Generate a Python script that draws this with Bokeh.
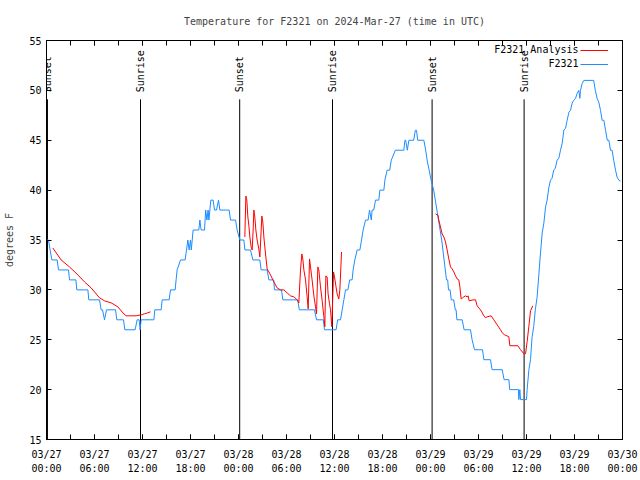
import math
from bokeh.plotting import figure
from bokeh.models import Range1d, FixedTicker, LinearAxis, Legend, LegendItem, Label
from bokeh.embed import file_html
from bokeh.resources import INLINE
from bokeh.core.properties import value

TITLE = "Temperature for F2321 on 2024-Mar-27 (time in UTC)"
Y_LABEL = "degrees F"
FONT = "DejaVu Sans Mono"

# x axis: hours since 2024-03-27 00:00 UTC
tick_hours = [0, 6, 12, 18, 24, 30, 36, 42, 48, 54, 60, 66, 72]
minor_hours = [0, 3, 6, 9, 12, 15, 18, 21, 24, 27, 30, 33, 36, 39, 42, 45, 48,
               51, 54, 57, 60, 63, 66, 69, 72]
tick_dates = ["03/27", "03/27", "03/27", "03/27", "03/28", "03/28", "03/28", "03/28",
              "03/29", "03/29", "03/29", "03/29", "03/30"]
tick_times = ["00:00", "06:00", "12:00", "18:00", "00:00", "06:00", "12:00", "18:00",
              "00:00", "06:00", "12:00", "18:00", "00:00"]
y_ticks = [15, 20, 25, 30, 35, 40, 45, 50, 55]

series_names = ["F2321 Analysis", "F2321"]

# observed F2321 temperature (hours, deg F)
obs_hours = [0.0, 0.25, 0.45, 0.67, 1.33, 1.5, 2.75, 2.88, 3.67, 3.79, 5.17, 5.29, 6.63,
             6.83, 7.0, 7.25, 7.5, 8.63, 8.79, 9.63, 9.79, 11.08, 11.33, 11.58, 11.7,
             11.83, 13.42, 13.54, 14.33, 14.46, 15.33, 15.5, 16.08, 16.2, 16.33, 16.75,
             17.33, 17.5, 17.67, 17.83, 18.0, 18.1, 18.33, 19.04, 19.17, 19.33, 19.75,
             19.9, 20.05, 20.2, 20.3, 20.54, 20.83, 21.0, 21.25, 21.5, 21.67, 22.83,
             23.0, 23.63, 23.83, 24.17, 24.67, 24.8, 25.5, 25.8, 26.67, 26.83, 27.58,
             27.8, 28.4, 28.5, 29.38, 29.54, 31.4, 31.6, 33.5, 33.75, 34.6, 34.75, 36.2,
             36.4, 36.75, 36.96, 37.17, 37.38, 37.67, 37.9, 38.2, 38.33, 38.54, 38.83,
             39.17, 39.38, 39.58, 39.88, 40.2, 40.38, 40.6, 40.7, 40.9, 41.13, 41.54,
             41.67, 42.17, 42.3, 42.58, 42.9, 43.1, 43.6, 44.67, 44.8, 44.9, 45.1, 45.3,
             45.9, 46.1, 46.25, 46.4, 47.17, 47.4, 47.58, 47.83, 48.08, 48.4, 48.6, 48.8,
             49.0, 49.2, 49.4, 49.55, 49.7, 49.85, 50.0, 50.15, 50.25, 50.45, 50.6, 50.9,
             51.1, 51.2, 51.3, 51.96, 52.2, 53.0, 53.2, 53.5, 54.5, 54.67, 55.5, 55.7,
             56.96, 57.2, 57.8, 57.9, 59.0, 59.04, 59.17, 59.25, 60.0, 60.08, 60.3, 60.5,
             60.7, 60.9, 61.1, 61.33, 61.54, 61.75, 61.96, 62.17, 62.38, 62.58, 62.8,
             63.0, 63.2, 63.4, 63.6, 63.83, 64.04, 64.25, 64.46, 64.67, 64.88, 65.08,
             65.3, 65.5, 65.7, 65.9, 66.13, 66.33, 66.54, 66.67, 66.75, 66.96, 67.17,
             68.4, 68.6, 68.83, 69.04, 69.25, 69.46, 69.67, 69.88, 70.1, 70.3, 70.5,
             70.7, 70.9, 71.13, 71.33, 71.54, 71.75]
obs_temps = [35, 35, 34, 33, 33, 32, 32, 31, 31, 30, 30, 29, 29,
             28, 28, 27, 28, 28, 27, 27, 26, 26, 27, 27, 26,
             27, 27, 28, 28, 29, 29, 30, 30, 31, 32, 33,
             33, 34, 35, 34, 35, 34, 36, 36, 37, 36, 36,
             38, 37, 38, 37, 39, 39, 38, 38, 39, 38, 38,
             37, 37, 36, 35, 35, 34, 34, 33, 33, 32, 32,
             31, 31, 30, 30, 29, 29, 28, 28, 27, 27, 26, 26,
             27, 27, 28, 29, 30, 30, 31, 31, 32, 33, 34,
             34, 35, 36, 37, 37, 38, 37, 38, 38, 39, 39,
             40, 40, 41, 42, 42, 43, 44, 44, 45, 45, 44, 45,
             45, 46, 46, 45, 45, 44, 43, 42, 41, 40, 39, 38,
             37, 36, 35, 34, 33, 32, 31, 31, 30, 30, 29, 29,
             28, 28, 27, 27, 26, 26, 25, 24, 24, 23, 23, 22,
             22, 21, 21, 20, 20, 19, 20, 19, 19, 20, 22, 23,
             25.3, 26.3, 28, 29.3, 31.5, 33.7, 35.7, 36.7, 38.3, 39, 40.3,
             41, 41.2, 42, 42.2, 43, 43.2, 44, 44.7, 46, 46.2, 47,
             47.8, 48, 48.7, 49, 49.2, 49.7, 50, 49.2, 50, 50.7, 51,
             51, 50, 49.2, 48.8, 48, 47, 47, 46, 45, 45, 44,
             44, 43, 42, 41.3, 41, 40.9]

# F2321 Analysis, one run per night
ana1_hours = [0.79, 1.83, 2.88, 3.92, 4.75, 5.58, 6.63, 7.25, 8.08, 8.92, 9.54, 9.96,
              10.38, 11.2, 11.83, 12.25, 12.67, 13.0]
ana1_temps = [34.2, 33.0, 32.3, 31.5, 30.8, 30.2, 29.2, 28.9, 28.7, 28.3, 27.7, 27.4,
              27.4, 27.4, 27.5, 27.6, 27.7, 27.8]

ana2_hours = [24.79, 24.92, 25.04, 25.17, 25.29, 25.42, 25.58, 25.71, 25.83, 25.92,
              26.04, 26.17, 26.33, 26.54, 26.67, 26.79, 26.92, 27.04, 27.17, 27.29,
              27.46, 27.58, 27.79, 28.0, 28.42, 28.83, 29.25, 29.67, 30.08, 30.5, 30.92,
              31.33, 31.54, 31.75, 31.92, 32.04, 32.17, 32.38, 32.58, 32.71, 32.88, 33.0,
              33.2, 33.42, 33.63, 33.75, 33.92, 34.04, 34.25, 34.46, 34.67, 34.79, 34.92,
              35.08, 35.2, 35.38, 35.5, 35.67, 35.88, 36.0, 36.17, 36.33, 36.54, 36.67,
              36.88]
ana2_temps = [35.3, 39.4, 39.0, 37.3, 36.5, 35.3, 34.3, 34.0, 36.0, 38.0,
              37.3, 36.0, 35.0, 34.1, 33.3, 35.3, 37.4, 36.8, 35.3, 34.3,
              33.0, 32.1, 31.8, 31.5, 30.8, 30.2, 30.0, 30.0, 29.7, 29.4, 29.3,
              29.0, 28.7, 32.0, 33.6, 33.1, 32.0, 31.0, 29.3, 28.1, 33.1, 32.3,
              31.0, 29.4, 28.3, 27.6, 32.3, 32.0, 30.3, 28.9, 27.3, 26.3, 31.4,
              31.3, 29.6, 28.6, 28.0, 26.3, 31.8, 31.3, 30.4, 29.6, 29.1, 30.0,
              33.8]

ana3_hours = [48.63, 48.92, 49.04, 49.25, 49.46, 49.67, 49.88, 50.08, 50.29, 50.5,
              50.71, 50.92, 51.13, 51.33, 51.54, 51.67, 51.83, 52.0, 52.17, 52.38,
              52.58, 52.71, 52.83, 53.33, 53.63, 53.83, 54.25, 54.67, 54.88, 55.08,
              55.58, 55.92, 56.33, 56.75, 56.96, 57.25, 57.79, 57.92, 58.92, 59.25,
              59.67, 59.88, 60.08, 60.29, 60.5, 60.79]
ana3_temps = [37.6, 37.5, 37.0, 36.3, 35.6, 35.3, 34.8, 34.0, 33.1, 32.3,
              32.1, 31.8, 31.4, 31.1, 31.0, 30.3, 29.1, 29.2, 29.3, 29.4,
              29.3, 29.4, 28.9, 29.0, 29.0, 28.4, 28.0, 27.4, 27.2, 27.3,
              27.4, 27.0, 26.5, 26.0, 25.7, 25.5, 25.3, 24.4, 24.4, 24.0,
              23.6, 23.6, 24.8, 26.3, 27.9, 28.4]

# sunset / sunrise times (hours)
sun_hours = [0.12, 11.75, 24.15, 35.75, 48.2, 59.7]
sun_names = ["Sunset", "Sunrise", "Sunset", "Sunrise", "Sunset", "Sunrise"]

RED = "#ff0000"
BLUE = "#1e8cff"

p = figure(width=640, height=480, x_range=Range1d(0, 72), y_range=Range1d(15, 55),
           output_backend="svg", toolbar_location=None,
           min_border_left=46, min_border_right=18, min_border_top=40, min_border_bottom=41)
p.title.text = TITLE
p.title.align = "center"
p.title.text_font = FONT
p.title.text_font_size = "10px"
p.title.text_font_style = "normal"
p.title.standoff = 27
p.grid.visible = False
p.outline_line_color = "black"
p.outline_line_width = 1
p.background_fill_color = "white"
p.border_fill_color = "white"

def style_axis(ax):
    ax.axis_line_color = "black"
    ax.major_tick_line_color = "black"
    ax.minor_tick_line_color = "black"
    ax.major_tick_in = 5
    ax.major_tick_out = 0
    ax.minor_tick_in = 5
    ax.minor_tick_out = 0
    ax.major_label_text_font = FONT
    ax.major_label_text_font_size = "10px"
    ax.major_label_text_color = "black"
    ax.axis_label_text_font = FONT
    ax.axis_label_text_font_size = "10px"
    ax.axis_label_text_font_style = "normal"

xa = p.xaxis[0]
xa.ticker = FixedTicker(ticks=tick_hours, minor_ticks=minor_hours)
xa.major_label_overrides = {h: d for h, d in zip(tick_hours, tick_dates)}
style_axis(xa)
xa.major_label_standoff = 9

xa2 = LinearAxis(ticker=FixedTicker(ticks=tick_hours),
                 major_label_overrides={h: t for h, t in zip(tick_hours, tick_times)})
style_axis(xa2)
xa2.axis_line_color = None
xa2.major_tick_line_color = None
xa2.minor_tick_line_color = None
xa2.major_label_standoff = 0
p.add_layout(xa2, "below")

ya = p.yaxis[0]
ya.ticker = FixedTicker(ticks=y_ticks, minor_ticks=[])
style_axis(ya)
ya.axis_label = Y_LABEL
ya.major_label_standoff = 5
ya.axis_label_standoff = 11

xtop = LinearAxis(ticker=FixedTicker(ticks=tick_hours, minor_ticks=minor_hours))
style_axis(xtop)
xtop.major_label_text_font_size = "0px"
xtop.major_label_standoff = 0
xtop.major_label_overrides = {h: "" for h in tick_hours}
p.add_layout(xtop, "above")

yright = LinearAxis(ticker=FixedTicker(ticks=y_ticks, minor_ticks=[]))
style_axis(yright)
yright.major_label_text_font_size = "0px"
yright.major_label_standoff = 0
yright.major_label_overrides = {t: "" for t in y_ticks}
p.add_layout(yright, "right")

# sunrise / sunset markers
p.segment(x0=sun_hours, y0=15, x1=sun_hours, y1=49.1, line_color="black", line_width=1)
p.text(x=sun_hours, y=49.8, text=sun_names, angle=math.pi / 2,
       text_align="left", text_baseline="middle",
       text_font=value(FONT), text_font_size="10px", text_color="black")

r_obs = p.line(obs_hours, obs_temps, line_color=BLUE, line_width=1)
r_a1 = p.line(ana1_hours, ana1_temps, line_color=RED, line_width=1)
p.line(ana2_hours, ana2_temps, line_color=RED, line_width=1)
p.line(ana3_hours, ana3_temps, line_color=RED, line_width=1)

# gnuplot-style key: line samples from a Legend, texts right-aligned left of them
legend = Legend(items=[LegendItem(label="", renderers=[r_a1]),
                       LegendItem(label="", renderers=[r_obs])],
                location=(534, 368), border_line_color=None,
                background_fill_alpha=0, label_text_font=FONT,
                label_text_font_size="10px",
                label_height=14, glyph_height=14, label_width=0,
                glyph_width=28, spacing=0, padding=2, margin=0, label_standoff=0)
p.add_layout(legend)
for name, sy in zip(series_names, [390, 376]):
    p.add_layout(Label(x=532, y=sy, x_units="screen", y_units="screen", text=name,
                       text_align="right", text_baseline="middle",
                       text_font=FONT, text_font_size="10px", text_color="black"))

open("out.html", "w").write(file_html(p, INLINE))
